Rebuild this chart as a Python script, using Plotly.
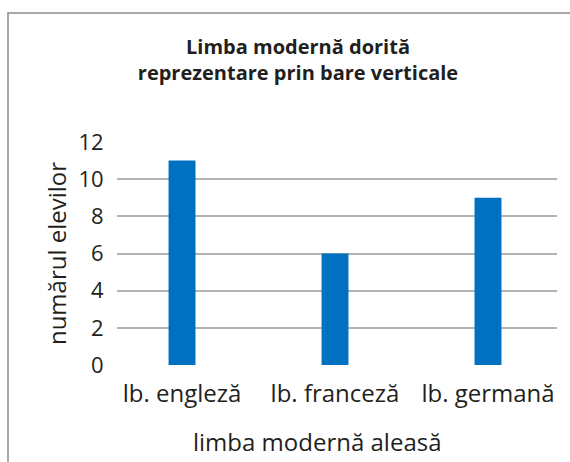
import plotly.graph_objects as go

# Limba modernă aleasă de elevi
categories = ["lb. engleză", "lb. franceză", "lb. germană"]
students = [11, 6, 9]
y_ticks = [0, 2, 4, 6, 8, 10, 12]

FONT = "Open Sans"
TEXT = "#231f20"
BAR = "#0070c0"

W, H = 570, 462
L, R, T, B = 117, 13, 142, 97
pw, ph = W - L - R, H - T - B

xs = list(range(len(categories)))

fig = go.Figure(
    go.Bar(
        x=xs,
        y=students,
        width=0.176,
        marker=dict(color=BAR, line=dict(width=0)),
        hoverinfo="skip",
    )
)

fig.update_layout(
    width=W,
    height=H,
    margin=dict(l=L, r=R, t=T, b=B),
    paper_bgcolor="white",
    plot_bgcolor="white",
    showlegend=False,
    font=dict(family=FONT, color=TEXT, size=23),
    title=dict(
        text="<b>Limba modernă dorită<br>reprezentare prin bare verticale</b>",
        x=298 / W,
        xanchor="center",
        y=1 - 54 / H,
        yanchor="middle",
        font=dict(family=FONT, size=20, color=TEXT),
    ),
    xaxis=dict(
        range=[-0.425, 2.451],
        tickmode="array",
        tickvals=xs,
        ticktext=categories,
        showgrid=False,
        zeroline=False,
        showline=False,
        ticks="outside",
        ticklen=7,
        tickcolor="rgba(0,0,0,0)",
        tickfont=dict(size=24),
    ),
    yaxis=dict(
        range=[0, 12],
        tickmode="array",
        tickvals=y_ticks,
        showgrid=True,
        gridcolor="#b3b3b3",
        gridwidth=1.5,
        zeroline=False,
        showline=False,
        ticks="outside",
        ticklen=8,
        tickcolor="rgba(0,0,0,0)",
        tickfont=dict(size=22),
        title=dict(text="numărul elevilor", font=dict(size=24), standoff=5),
    ),
    annotations=[
        # x-axis caption, set a little left of the plot centre
        dict(
            text="limba modernă aleasă",
            xref="paper",
            yref="paper",
            x=(317 - L) / pw,
            y=-(441 - (H - B)) / ph,
            xanchor="center",
            yanchor="middle",
            showarrow=False,
            font=dict(family=FONT, size=24, color=TEXT),
        )
    ],
    shapes=[
        # chart frame (only left and top edges fall inside the page)
        dict(
            type="rect",
            xref="paper",
            yref="paper",
            x0=(8 - L) / pw,
            x1=(W + 20 - L) / pw,
            y0=-(B + 20) / ph,
            y1=(H - 13 - B) / ph,
            line=dict(color="#8c8c8c", width=1.5),
            fillcolor="rgba(0,0,0,0)",
            layer="below",
        )
    ],
)

fig.write_html("out.html")
